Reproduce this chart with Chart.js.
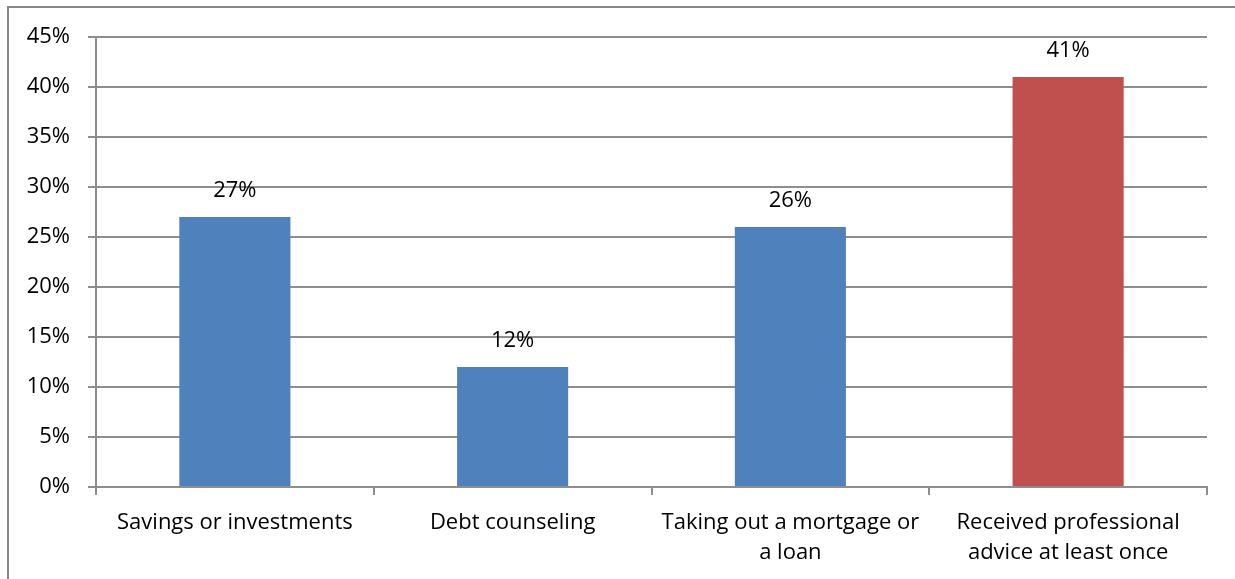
<!DOCTYPE html>
<html>
<head>
<meta charset="utf-8">
<script src="https://cdn.jsdelivr.net/npm/chart.js@4/dist/chart.umd.min.js"></script>
<style>
  html, body { margin: 0; padding: 0; background: #fff; overflow: hidden; }
  #wrap { position: relative; width: 1235px; height: 579px; }
  #frame { position: absolute; left: 7px; top: 6px; width: 1300px; height: 700px; border: 2px solid #878787; box-sizing: border-box; }
  #chart { position: absolute; left: 0; top: 0; }
</style>
</head>
<body>
<div id="wrap">
  <div id="frame"></div>
  <canvas id="chart" width="1235" height="579"></canvas>
</div>
<script>
// Share of respondents by type of advice received
const categories = [
  ['Savings or investments'],
  ['Debt counseling'],
  ['Taking out a mortgage or', 'a loan'],
  ['Received professional', 'advice at least once'],
];
const shares = [27, 12, 26, 41];
const barColors = ['#4F81BD', '#4F81BD', '#4F81BD', '#C0504D'];
const yTicks = [0, 5, 10, 15, 20, 25, 30, 35, 40, 45];

const FONT = '"Open Sans", sans-serif';
const GRID = '#8e8e8e';

// value labels above each bar
const valueLabels = {
  id: 'valueLabels',
  afterDatasetsDraw(chart) {
    const { ctx } = chart;
    const meta = chart.getDatasetMeta(0);
    ctx.save();
    ctx.font = `22px ${FONT}`;
    ctx.fillStyle = '#000';
    ctx.textAlign = 'center';
    ctx.textBaseline = 'middle';
    meta.data.forEach((bar, i) => {
      ctx.fillText(`${shares[i]}%`, bar.x, bar.y - 26);
    });
    ctx.restore();
  },
};

new Chart(document.getElementById('chart'), {
  type: 'bar',
  data: {
    labels: categories,
    datasets: [{ data: shares, backgroundColor: barColors, borderWidth: 0, barPercentage: 0.4, categoryPercentage: 1 }],
  },
  options: {
    responsive: false,
    animation: false,
    layout: { padding: { left: 0, top: 37, right: 28, bottom: 0 } },
    plugins: { legend: { display: false }, tooltip: { enabled: false } },
    scales: {
      x: {
        offset: true,
        grid: { offset: true, drawOnChartArea: false, color: GRID, lineWidth: 2, tickLength: 8 },
        border: { color: GRID, width: 2 },
        ticks: { color: '#000', padding: 13, maxRotation: 0, autoSkip: false, font: { family: FONT, size: 22, lineHeight: 1.36 } },
        afterFit: s => { s.height = 92; },
      },
      y: {
        min: 0,
        max: 45,
        afterBuildTicks: s => { s.ticks = yTicks.map(v => ({ value: v })); },
        grid: { color: GRID, lineWidth: 2, tickLength: 8 },
        border: { color: GRID, width: 2 },
        ticks: { color: '#000', padding: 18, callback: v => `${v}%`, font: { family: FONT, size: 22 } },
        afterFit: s => { s.width = 96; },
      },
    },
  },
  plugins: [valueLabels],
});
</script>
</body>
</html>
